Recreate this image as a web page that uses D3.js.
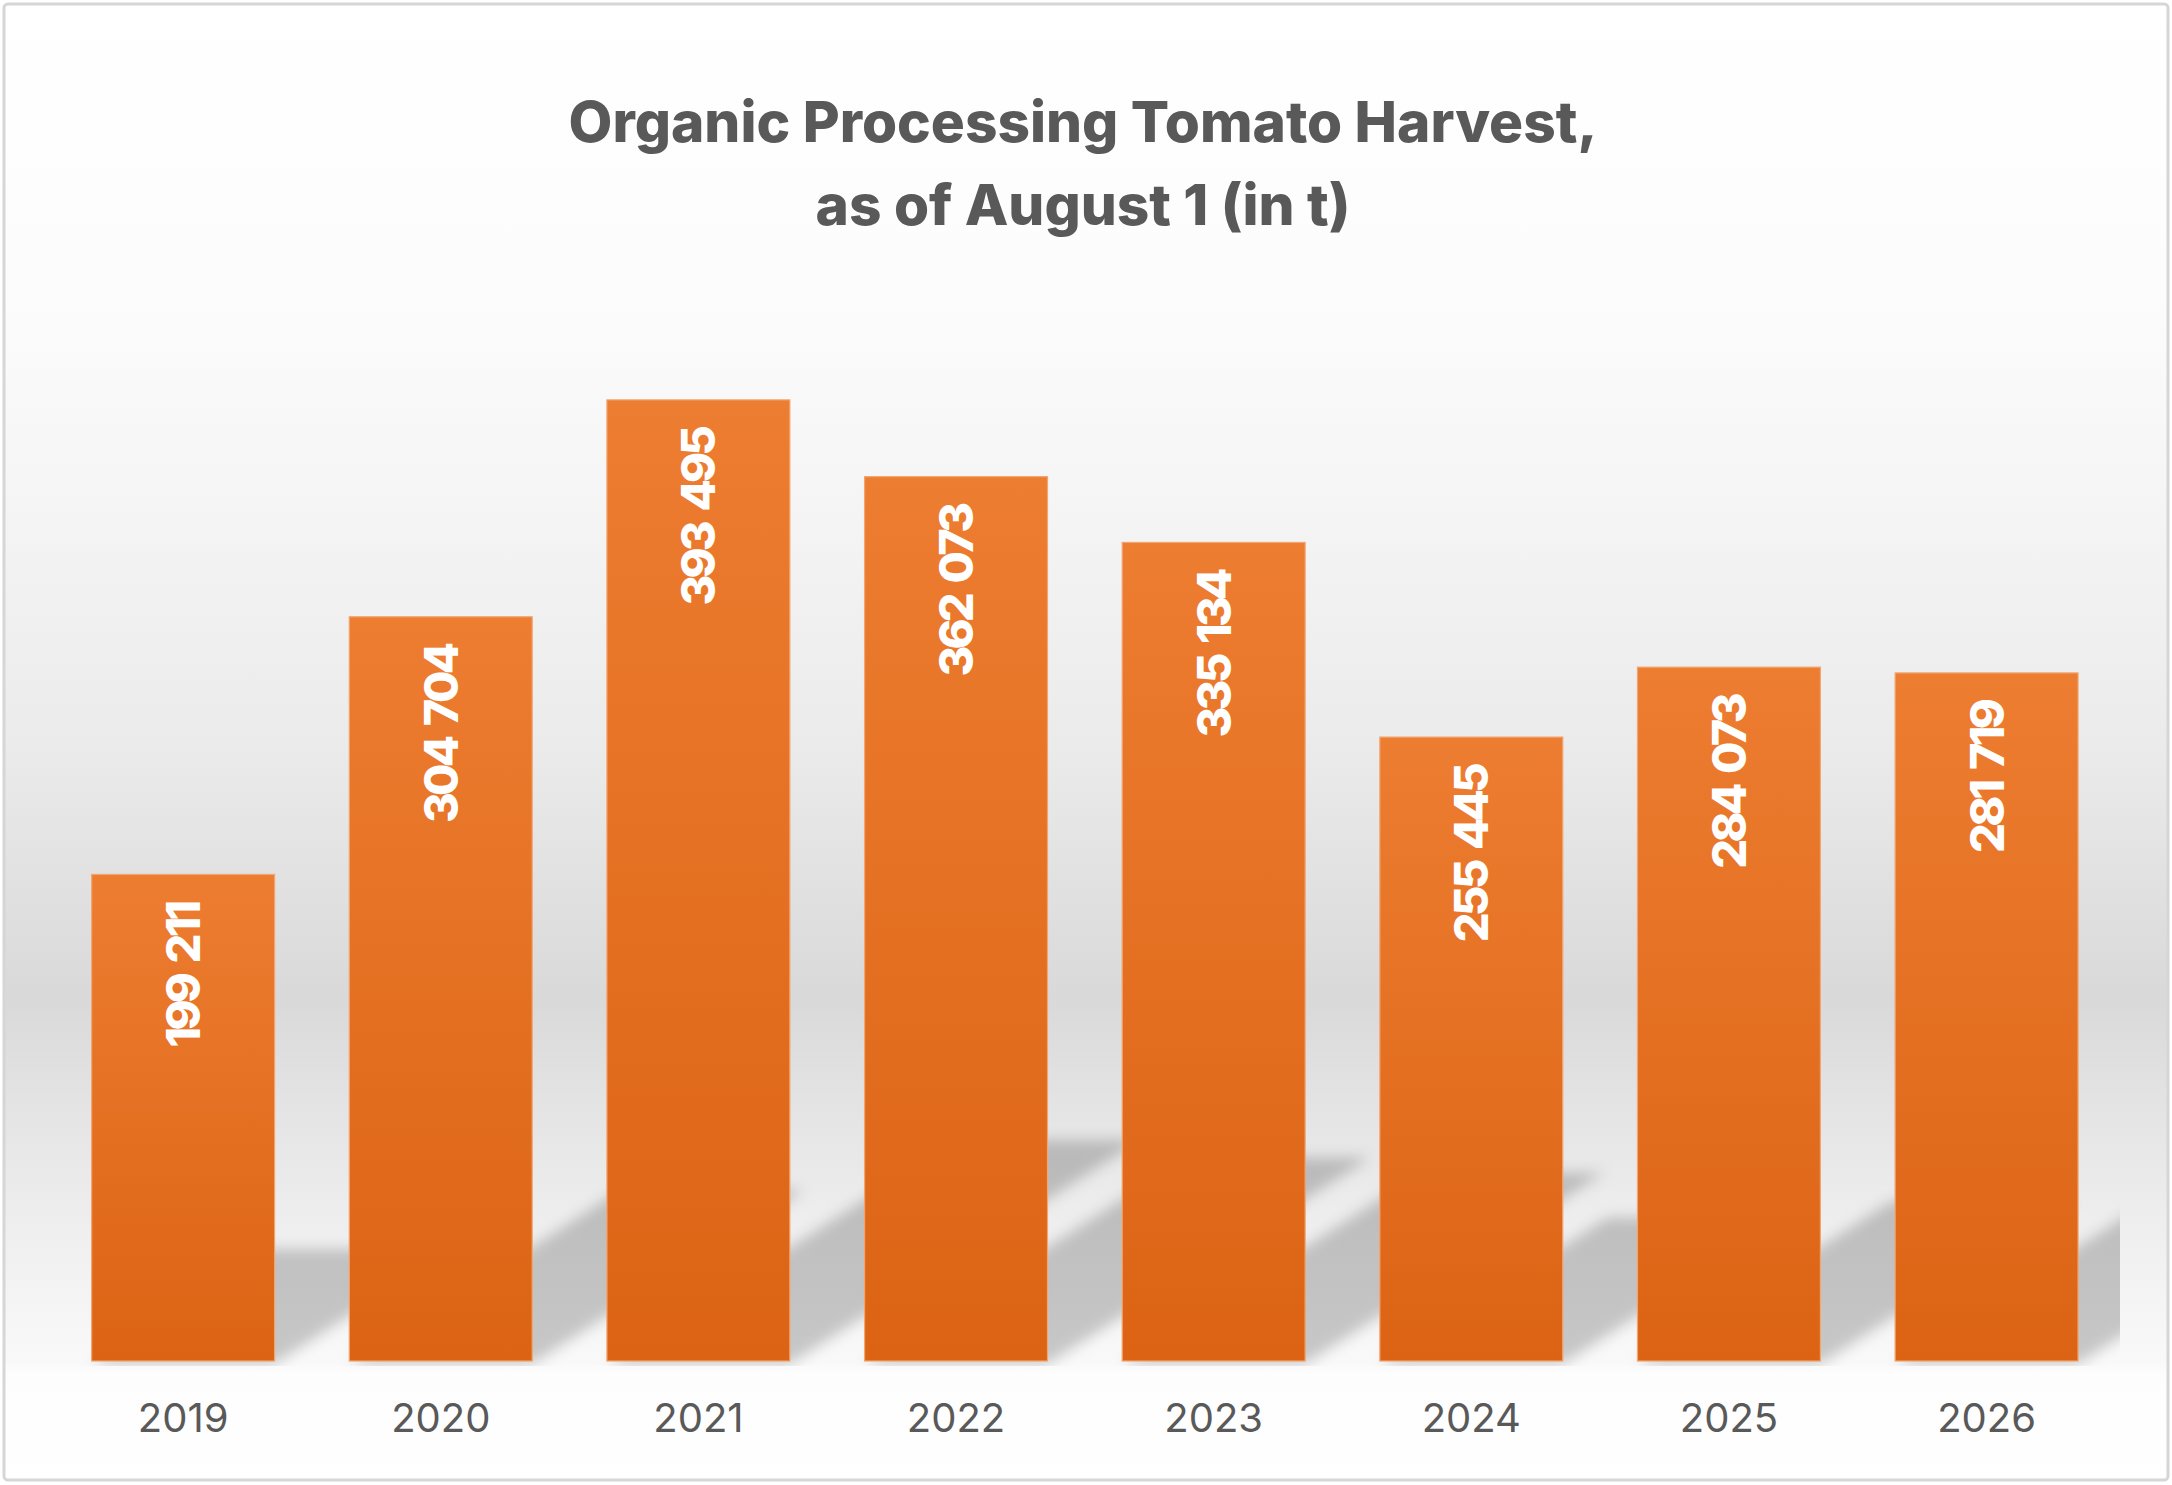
<!DOCTYPE html>
<html><head><meta charset="utf-8">
<script src="https://cdn.jsdelivr.net/npm/d3@7"></script>
<style>html,body{margin:0;padding:0;background:#fff;} svg{display:block;}</style>
</head><body>
<svg id="chart" width="2172" height="1485"></svg>
<script>
// ---- data ----
const years = ["2019", "2020", "2021", "2022", "2023", "2024", "2025", "2026"];
const harvest = [199211, 304704, 393495, 362073, 335134, 255445, 284073, 281719];
const titleLines = ["Organic Processing Tomato Harvest,", "as of August 1 (in t)"];

// ---- layout ----
const W = 2172, H = 1485;
const svg = d3.select("#chart");
const defs = svg.append("defs");
const data = years.map((y, i) => ({ year: y, value: harvest[i] }));
const fmt = d3.formatLocale({ decimal: ".", thousands: " ", grouping: [3], currency: ["", ""] }).format(",");

const x = d3.scaleBand().domain(years).range([54.3, 2115.4]).paddingInner(0.29).paddingOuter(0.145);
const y = d3.scaleLinear().domain([0, 400000]).range([1361, 384]);

// background gradient
const bg = defs.append("linearGradient").attr("id", "bg").attr("gradientUnits", "userSpaceOnUse")
  .attr("x1", 0).attr("y1", 0).attr("x2", 0).attr("y2", H);
[[0, "#ffffff"], [0.2, "#fcfcfc"], [0.32, "#f6f6f6"], [0.5, "#ebebeb"], [0.672, "#d9d9d9"], [0.74, "#e3e3e3"],
 [0.83, "#efefef"], [0.918, "#f9f9f9"], [0.925, "#fdfdfd"], [1, "#ffffff"]]
  .forEach(([o, c]) => bg.append("stop").attr("offset", o).attr("stop-color", c));

svg.append("rect").attr("x", 4).attr("y", 4).attr("width", W - 8).attr("height", H - 9)
  .attr("rx", 4).attr("fill", "url(#bg)").attr("stroke", "#d6d6d6").attr("stroke-width", 3);

// bar gradient
const bg2 = defs.append("linearGradient").attr("id", "barGrad").attr("x1", 0).attr("y1", 0).attr("x2", 0).attr("y2", 1);
bg2.append("stop").attr("offset", 0).attr("stop-color", "#ED7D31");
bg2.append("stop").attr("offset", 1).attr("stop-color", "#DC6314");

// shadow filter + clip
defs.append("filter").attr("id", "blur").attr("x", "-30%").attr("y", "-30%").attr("width", "160%").attr("height", "160%")
  .append("feGaussianBlur").attr("stdDeviation", 7);
defs.append("clipPath").attr("id", "plotClip").append("rect")
  .attr("x", 6).attr("y", 6).attr("width", 2120 - 6).attr("height", 1366 - 6);

const shadowRatio = 0.23, slope = 0.63;
const base = y(0);
svg.append("g").attr("clip-path", "url(#plotClip)")
  .append("g").attr("filter", "url(#blur)")
  .selectAll("path").data(data).join("path")
  .attr("fill", "#000").attr("fill-opacity", 0.2)
  .attr("d", d => {
    const x0 = x(d.year), x1 = x0 + x.bandwidth();
    const hs = (base - y(d.value)) * shadowRatio;
    const dx = hs / slope;
    return `M${x0},${base + 3}L${x1},${base + 3}L${x1 + dx},${base - hs}L${x0 + dx},${base - hs}Z`;
  });

// bars
svg.append("g").selectAll("rect").data(data).join("rect")
  .attr("x", d => x(d.year)).attr("width", x.bandwidth())
  .attr("y", d => y(d.value)).attr("height", d => base - y(d.value))
  .attr("fill", "url(#barGrad)").attr("stroke", "#F2A571").attr("stroke-width", 1.2);

// value labels
svg.append("g").selectAll("text").data(data).join("text")
  .attr("transform", d => `translate(${x(d.year) + x.bandwidth() / 2},${y(d.value) + 29}) rotate(-90)`)
  .attr("text-anchor", "end").attr("dy", "0.36em")
  .attr("font-family", "Inter, 'Open Sans', sans-serif").attr("font-weight", 800)
  .attr("font-size", 47).attr("letter-spacing", -3.8).attr("word-spacing", 6).attr("fill", "#ffffff")
  .style("font-variant-numeric", "proportional-nums")
  .text(d => fmt(d.value));

// x axis
const ax = svg.append("g").attr("transform", `translate(0,${base})`)
  .call(d3.axisBottom(x).tickSize(0).tickPadding(43));
ax.select(".domain").remove();
ax.selectAll("text").attr("font-family", "Inter, 'Open Sans', sans-serif").attr("font-size", 40)
  .attr("fill", "#595959").style("font-variant-numeric", "proportional-nums");

// title
const title = svg.append("g").attr("font-family", "Inter, 'Open Sans', sans-serif").attr("font-weight", 800)
  .attr("fill", "#595959").attr("text-anchor", "middle");
const t1 = title.append("text").attr("x", 1083).attr("y", 142).attr("font-size", 56).text(titleLines[0]);
const fs = 56 * 1029 / t1.node().getComputedTextLength();
t1.attr("font-size", fs);
title.append("text").attr("x", 1083).attr("y", 225).attr("font-size", fs).text(titleLines[1]);
</script>
</body></html>
